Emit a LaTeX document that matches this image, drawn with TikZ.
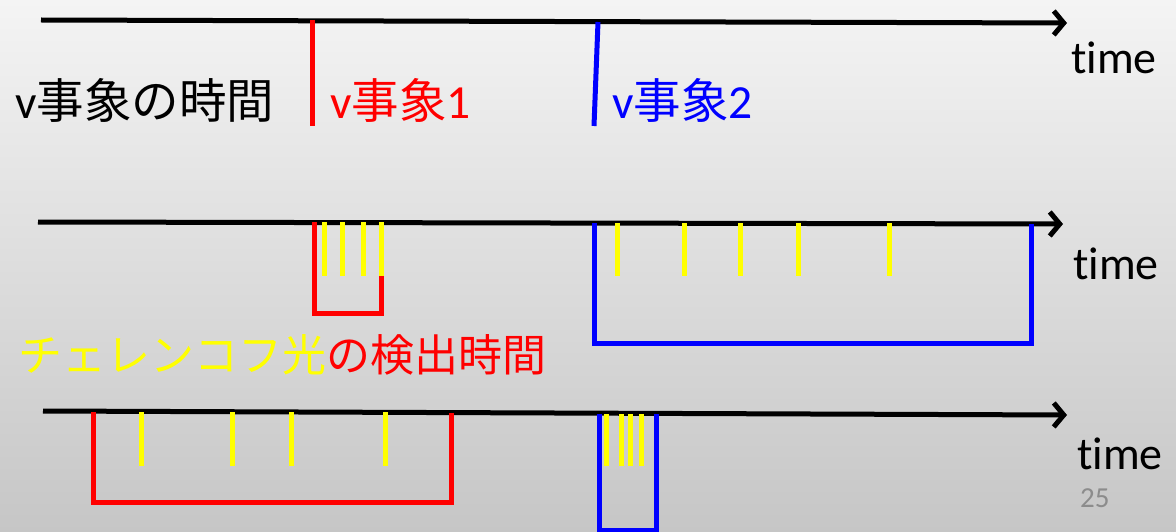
\documentclass[tikz,border=0pt]{standalone}
\usepackage{fontspec}
\setmainfont{Carlito}[Ligatures=NoCommon]
\newfontfamily\cjk{Noto Sans CJK JP}
\usetikzlibrary{arrows.meta}
\definecolor{bgtop}{RGB}{244,244,244}
\definecolor{bgbot}{RGB}{198,198,198}
\definecolor{evred}{RGB}{255,0,0}
\definecolor{evblue}{RGB}{0,0,255}
\definecolor{cyel}{RGB}{255,255,0}
\definecolor{pgnum}{RGB}{140,140,140}
\begin{document}
\begin{tikzpicture}[x=1pt,y=-1pt,
  axis/.style={line width=5pt,-{Straight Barb[length=10pt,width=24pt]}},
  evline/.style={line width=5pt},
  boxline/.style={line width=5pt,line join=miter},
  hit/.style={line width=5pt,cyel},
  lbl/.style={inner sep=0pt,anchor=west,font=\fontsize{44}{50}\selectfont},
  evlbl/.style={inner sep=0pt,anchor=west,font=\fontsize{47.5}{54}\selectfont},
  timelbl/.style={inner sep=0pt,anchor=west,font=\fontsize{46}{52}\selectfont}]
\useasboundingbox (0,0) rectangle (1176,532);
\shade[top color=bgtop,bottom color=bgbot] (0,0) rectangle (1176,532);

% ---------- row 1 ----------
\coordinate (a1s) at (41,20);
\coordinate (a1e) at (1067,23);
\draw[axis] (a1s) -- (a1e);
\coordinate (r1t) at (312,20);
\coordinate (r1b) at (312,126);
\draw[evline,evred] (r1t) -- (r1b);
\coordinate (b1t) at (598,22);
\coordinate (b1b) at (594,126);
\draw[evline,evblue] (b1t) -- (b1b);
\node[evlbl] (t1) at (15,100) {v{\cjk 事象の時間}};
\node[evlbl,text=evred] (e1) at (330,100) {v{\cjk 事象}1};
\node[evlbl,text=evblue] (e2) at (612,100) {v{\cjk 事象}2};
\node[timelbl] (time1) at (1071,58) {time};

% ---------- row 2 ----------
\coordinate (a2s) at (38,222);
\coordinate (a2e) at (1063,224);
\draw[axis] (a2s) -- (a2e);
\coordinate (rb2a) at (314,222);
\coordinate (rb2b) at (314,313);
\coordinate (rb2c) at (381,313);
\coordinate (rb2d) at (381,222);
\draw[boxline,evred] (rb2a) -- (rb2b) -- (rb2c) -- (rb2d);
\foreach \x [count=\i] in {324.5,342.5,363,381}{
  \coordinate (y2a\i) at (\x,222);
  \coordinate (y2b\i) at (\x,276);
  \draw[hit] (y2a\i) -- (y2b\i);
}
\coordinate (bb2a) at (594,223);
\coordinate (bb2b) at (594,343);
\coordinate (bb2c) at (1031,343);
\coordinate (bb2d) at (1031,224);
\draw[boxline,evblue] (bb2a) -- (bb2b) -- (bb2c) -- (bb2d);
\foreach \x [count=\i] in {617,684.5,740,798,889}{
  \coordinate (y2c\i) at (\x,223);
  \coordinate (y2d\i) at (\x,276);
  \draw[hit] (y2c\i) -- (y2d\i);
}
\node[timelbl] (time2) at (1073,264) {time};
\node[lbl] (cher) at (18,355) {\cjk\textcolor{cyel}{チェレンコフ光}\textcolor{evred}{の検出時間}};

% ---------- row 3 ----------
\coordinate (a3s) at (43,411);
\coordinate (a3e) at (1067,415);
\draw[axis] (a3s) -- (a3e);
\coordinate (rb3a) at (93,412);
\coordinate (rb3b) at (93,502);
\coordinate (rb3c) at (451,502);
\coordinate (rb3d) at (451,413);
\draw[boxline,evred] (rb3a) -- (rb3b) -- (rb3c) -- (rb3d);
\foreach \x [count=\i] in {141.6,232,291.6,385}{
  \coordinate (y3a\i) at (\x,412);
  \coordinate (y3b\i) at (\x,466);
  \draw[hit] (y3a\i) -- (y3b\i);
}
\coordinate (bb3a) at (599,414);
\coordinate (bb3b) at (599,530);
\coordinate (bb3c) at (656,530);
\coordinate (bb3d) at (656,414);
\draw[boxline,evblue] (bb3a) -- (bb3b) -- (bb3c) -- (bb3d);
\foreach \x [count=\i] in {606,621,630,641}{
  \coordinate (y3c\i) at (\x,414);
  \coordinate (y3d\i) at (\x,466);
  \draw[hit] (y3c\i) -- (y3d\i);
}
\node[timelbl] (time3) at (1077,454) {time};
\node[inner sep=0pt,anchor=west,text=pgnum,font=\fontsize{29}{33}\selectfont] (pg) at (1080,498) {25};
\end{tikzpicture}
\end{document}
